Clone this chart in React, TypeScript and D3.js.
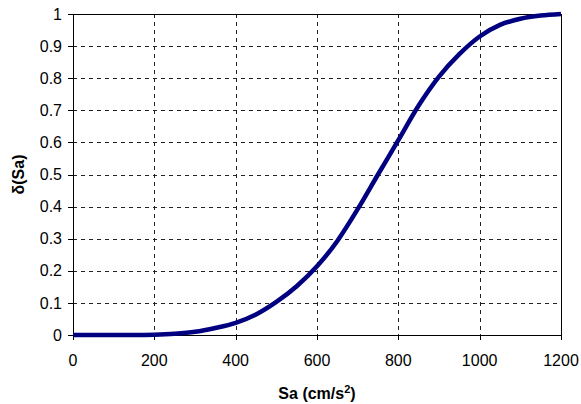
import React from "react";
import * as d3 from "d3";

const saValues = [0, 50, 100, 150, 200, 250, 300, 350, 400, 450, 500, 550, 600, 650, 700, 750, 800, 850, 900, 950, 1000, 1050, 1100, 1150, 1200];
const deltaValues = [0, 0, 0, 0, 0.001, 0.004, 0.01, 0.022, 0.038, 0.064, 0.103, 0.152, 0.214, 0.293, 0.392, 0.5, 0.607, 0.715, 0.805, 0.875, 0.93, 0.966, 0.985, 0.995, 1.0];
const xTicks = [0, 200, 400, 600, 800, 1000, 1200];
const yTicks = [0, 0.1, 0.2, 0.3, 0.4, 0.5, 0.6, 0.7, 0.8, 0.9, 1];

const W = 581;
const H = 404;
const left = 73;
const right = 561;
const top = 14;
const bottom = 335;

export default function App() {
  const x = d3.scaleLinear().domain([0, 1200]).range([left, right]);
  const y = d3.scaleLinear().domain([0, 1]).range([bottom, top]);
  const pts = saValues.map((s, i) => [s, deltaValues[i]] as [number, number]);
  const line = d3
    .line<[number, number]>()
    .x((d) => x(d[0]))
    .y((d) => y(d[1]))
    .curve(d3.curveMonotoneX);
  const font = "'Liberation Sans', Arial, sans-serif";
  return (
    <svg
      width={W}
      height={H}
      style={{ position: "absolute", left: 0, top: 0, background: "#fff" }}
      fontFamily={font}
    >
      <rect x={0} y={0} width={W} height={H} fill="#fff" />
      {yTicks
        .filter((t) => t > 0 && t < 1)
        .map((t) => (
          <line
            key={"gy" + t}
            x1={left}
            x2={right}
            y1={Math.round(y(t)) + 0.5}
            y2={Math.round(y(t)) + 0.5}
            stroke="#222"
            strokeWidth={1}
            strokeDasharray="4,4"
          />
        ))}
      {xTicks
        .filter((t) => t > 0 && t < 1200)
        .map((t) => (
          <line
            key={"gx" + t}
            x1={Math.round(x(t)) + 0.5}
            x2={Math.round(x(t)) + 0.5}
            y1={top}
            y2={bottom}
            stroke="#222"
            strokeWidth={1}
            strokeDasharray="4,4"
          />
        ))}
      <line x1={left} x2={right + 0.5} y1={top + 0.5} y2={top + 0.5} stroke="#000" />
      <line x1={right + 0.5} x2={right + 0.5} y1={top} y2={bottom} stroke="#000" />
      <line x1={left + 0.5} x2={left + 0.5} y1={top} y2={bottom + 0.5} stroke="#000" />
      <line x1={left} x2={right + 1} y1={bottom + 0.5} y2={bottom + 0.5} stroke="#000" />
      {yTicks.map((t) => (
        <g key={"ty" + t}>
          <line
            x1={left - 5}
            x2={left}
            y1={Math.round(y(t)) + 0.5}
            y2={Math.round(y(t)) + 0.5}
            stroke="#000"
          />
          <text
            x={62}
            y={y(t)}
            dy="0.35em"
            textAnchor="end"
            fontSize={16}
            fill="#000"
          >
            {String(t)}
          </text>
        </g>
      ))}
      {xTicks.map((t) => (
        <g key={"tx" + t}>
          <line
            x1={Math.round(x(t)) + 0.5}
            x2={Math.round(x(t)) + 0.5}
            y1={bottom}
            y2={bottom + 5}
            stroke="#000"
          />
          <text
            x={x(t)}
            y={360}
            dy="0.35em"
            textAnchor="middle"
            fontSize={16}
            fill="#000"
          >
            {String(t)}
          </text>
        </g>
      ))}
      <path
        d={line(pts) || ""}
        fill="none"
        stroke="#000080"
        strokeWidth={4.5}
        strokeLinejoin="round"
      />
      <text
        x={317}
        y={393}
        dy="0.35em"
        textAnchor="middle"
        fontSize={16}
        fontWeight="bold"
        fill="#000"
      >
        Sa (cm/s
        <tspan fontSize={11} dy="-6">2</tspan>
        <tspan dy="6">)</tspan>
      </text>
      <text
        transform={`translate(18, ${(top + bottom) / 2}) rotate(-90)`}
        dy="0.35em"
        textAnchor="middle"
        fontSize={16}
        fontWeight="bold"
        fill="#000"
      >
        δ(Sa)
      </text>
    </svg>
  );
}
